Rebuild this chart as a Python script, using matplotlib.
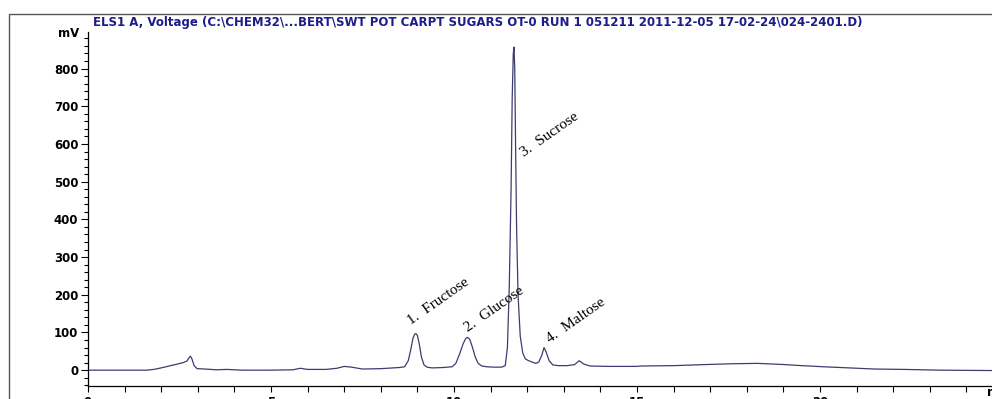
import matplotlib
matplotlib.use("Agg")
import matplotlib.pyplot as plt
from matplotlib.ticker import MultipleLocator
from matplotlib.patches import Rectangle

# --- chromatogram trace (min, mV) ---
time = [0, 1.0, 1.6, 1.8, 2.0, 2.3, 2.6, 2.7, 2.76, 2.80, 2.84, 2.90, 2.98, 3.2, 3.5,
        3.8, 4.2, 5.0, 5.6, 5.8, 6.0, 6.5, 6.8, 7.0, 7.2, 7.5, 8.0, 8.5, 8.65, 8.75,
        8.82, 8.88, 8.93, 8.96, 9.00, 9.05, 9.11, 9.18, 9.26, 9.40, 9.7, 9.95, 10.05,
        10.15, 10.25, 10.32, 10.37, 10.43, 10.50, 10.58, 10.66, 10.76, 10.9, 11.1,
        11.30, 11.40, 11.46, 11.51, 11.56, 11.59, 11.62, 11.64, 11.66, 11.68, 11.71,
        11.75, 11.81, 11.88, 11.95, 12.02, 12.12, 12.24, 12.32, 12.40, 12.46, 12.52,
        12.60, 12.70, 12.85, 13.1, 13.3, 13.42, 13.55, 13.72, 14.2, 15.0, 15.1, 16.0,
        16.9, 17.6, 18.3, 19.0, 19.5, 20.1, 20.8, 21.5, 22.3, 23.3, 24.7]
signal = [0, 0, 0, 2, 6, 13, 20, 24, 33, 37, 30, 12, 4, 3, 1,
          2, 0, 0, 1, 5, 2, 2, 5, 10, 8, 3, 4, 7, 9, 25,
          55, 85, 96, 97, 92, 70, 35, 14, 8, 6, 7, 9, 18,
          42, 70, 84, 87, 82, 62, 35, 18, 11, 9, 8,
          8, 12, 60, 220, 480, 720, 840, 857, 800, 620, 380,
          200, 90, 45, 30, 26, 22, 18, 22, 40, 60, 48,
          25, 14, 12, 12, 15, 25, 16, 11, 10, 10, 11, 12,
          15, 17, 18, 15, 12, 9, 6, 3, 2, 0, -1]

peak_labels = ["1.  Fructose", "2.  Glucose", "3.  Sucrose", "4.  Maltose"]
label_xy = [(8.82, 119), (10.38, 102), (11.90, 566), (12.62, 71)]

title = ("ELS1 A, Voltage (C:\\CHEM32\\...BERT\\SWT POT CARPT SUGARS OT-0 RUN 1 "
         "051211 2011-12-05 17-02-24\\024-2401.D)")

W, H = 992, 399
fig = plt.figure(figsize=(W / 100, H / 100), dpi=100)

# outer frame (left + top edge visible)
fig.add_artist(Rectangle((9 / W, -0.05), 2, (H - 14) / H + 0.05, transform=fig.transFigure,
                         fill=False, edgecolor="#555555", linewidth=1.0))

ax = fig.add_axes([88 / W, (H - 386) / H, (W - 88) / W, (386 - 32) / H])
ax.plot(time, signal, color="#3c3c70", linewidth=0.9)
ax.set_xlim(0, 24.7)
ax.set_ylim(-42, 897)

for s in ["top", "right"]:
    ax.spines[s].set_visible(False)
ax.spines["left"].set_linewidth(0.9)
ax.spines["bottom"].set_linewidth(0.9)

ax.xaxis.set_major_locator(MultipleLocator(5))
ax.xaxis.set_minor_locator(MultipleLocator(1))
ax.yaxis.set_major_locator(MultipleLocator(100))
ax.yaxis.set_minor_locator(MultipleLocator(20))
ax.tick_params(axis="y", which="major", length=5, width=0.8, pad=2)
ax.tick_params(axis="y", which="minor", length=3, width=0.8)
ax.tick_params(axis="x", which="both", length=4, width=0.8, pad=3)
for lab in ax.get_xticklabels() + ax.get_yticklabels():
    lab.set_fontweight("bold")
    lab.set_fontsize(8.5)
    lab.set_family("DejaVu Sans")

ax.annotate("mV", xy=(0, 893), xycoords=("axes fraction", "data"), xytext=(-6, 0),
            textcoords="offset points", ha="right", va="center",
            fontsize=8.5, fontweight="bold")
ax.text(24.55, -42, "min", ha="left", va="top", fontsize=8.5, fontweight="bold",
        transform=ax.transData, clip_on=False)

for text, (x, y) in zip(peak_labels, label_xy):
    ax.text(x, y, text, rotation=35, rotation_mode="anchor", ha="left", va="baseline",
            family="Liberation Serif", fontsize=11)

fig.text(93 / W, 1 - 16 / H, title, ha="left", va="top", fontsize=8.5,
         fontweight="bold", color="#1c1c8a", family="DejaVu Sans")

fig.savefig("out.png", dpi=100)
